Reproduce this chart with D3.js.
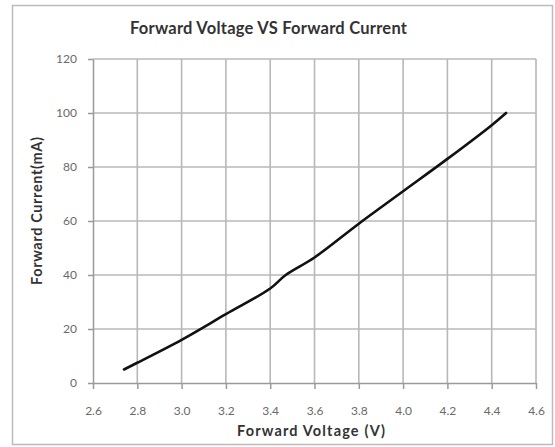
<!DOCTYPE html>
<html><head><meta charset="utf-8">
<script src="https://cdn.jsdelivr.net/npm/d3@7"></script>
<style>body{margin:0;background:#fff}svg{display:block}</style>
</head><body>
<script>
const voltage = [2.74, 2.8, 3.0, 3.2, 3.4, 3.47, 3.6, 3.8, 4.0, 4.2, 4.4, 4.465];
const current = [5, 7.5, 16, 25.5, 35, 40, 46.5, 59, 71, 83, 95.5, 100];
const xTicks = [2.6, 2.8, 3.0, 3.2, 3.4, 3.6, 3.8, 4.0, 4.2, 4.4, 4.6];
const yTicks = [0, 20, 40, 60, 80, 100, 120];
const title = "Forward Voltage VS Forward Current";
const xTitle = "Forward Voltage  (V)";
const yTitle = "Forward Current(mA)";

const W = 555, H = 447;
const svg = d3.select("body").append("svg").attr("width", W).attr("height", H);
const font = "Lato, 'Open Sans', sans-serif";

svg.append("rect").attr("x", 12.5).attr("y", 5.5).attr("width", 540).attr("height", 439)
  .attr("fill", "#fff").attr("stroke", "#bbb").attr("stroke-width", 1.5);

const x = d3.scaleLinear().domain([2.6, 4.6]).range([93, 536]);
const y = d3.scaleLinear().domain([0, 120]).range([383, 59]);

const grid = svg.append("g").attr("stroke", "#b8b8b8").attr("stroke-width", 1.6);
grid.selectAll(".vg").data(xTicks.slice(1)).join("line")
  .attr("x1", d => x(d)).attr("x2", d => x(d)).attr("y1", y(0)).attr("y2", y(120));
grid.selectAll(".hg").data(yTicks.slice(1)).join("line")
  .attr("x1", x(2.6)).attr("x2", x(4.6)).attr("y1", d => y(d)).attr("y2", d => y(d));

const xAxis = svg.append("g").attr("transform", `translate(0,${y(0)})`)
  .call(d3.axisBottom(x).tickValues(xTicks).tickFormat(d3.format(".1f")).tickSizeInner(6).tickSizeOuter(0).tickPadding(17));
const yAxis = svg.append("g").attr("transform", `translate(${x(2.6)},0)`)
  .call(d3.axisLeft(y).tickValues(yTicks).tickSizeInner(5).tickSizeOuter(0).tickPadding(11));
[xAxis, yAxis].forEach(a => {
  a.selectAll("path,line").attr("stroke", "#9a9a9a").attr("stroke-width", 1.5);
  a.selectAll("text").attr("fill", "#6a6a6a").attr("font-family", font).attr("font-size", 12);
});

const line = d3.line().x(d => x(d[0])).y(d => y(d[1])).curve(d3.curveCatmullRom.alpha(0.5));
svg.append("path").datum(voltage.map((v, i) => [v, current[i]]))
  .attr("d", line).attr("fill", "none").attr("stroke", "#111").attr("stroke-width", 2.6)
  .attr("stroke-linecap", "round");

svg.append("text").attr("x", 268.5).attr("y", 34).attr("text-anchor", "middle")
  .attr("font-family", font).attr("font-weight", "bold").attr("font-size", 16.5).attr("fill", "#333")
  .attr("textLength", 277).attr("lengthAdjust", "spacing")
  .text(title);
svg.append("text").attr("x", 311).attr("y", 436).attr("text-anchor", "middle")
  .attr("font-family", font).attr("font-weight", "bold").attr("font-size", 14.5).attr("fill", "#333")
  .attr("textLength", 148).attr("lengthAdjust", "spacing")
  .text(xTitle);
svg.append("text").attr("transform", "translate(42,211) rotate(-90)").attr("text-anchor", "middle")
  .attr("font-family", font).attr("font-weight", "bold").attr("font-size", 14.5).attr("fill", "#333")
  .attr("textLength", 148).attr("lengthAdjust", "spacing")
  .text(yTitle);
</script>
</body></html>
